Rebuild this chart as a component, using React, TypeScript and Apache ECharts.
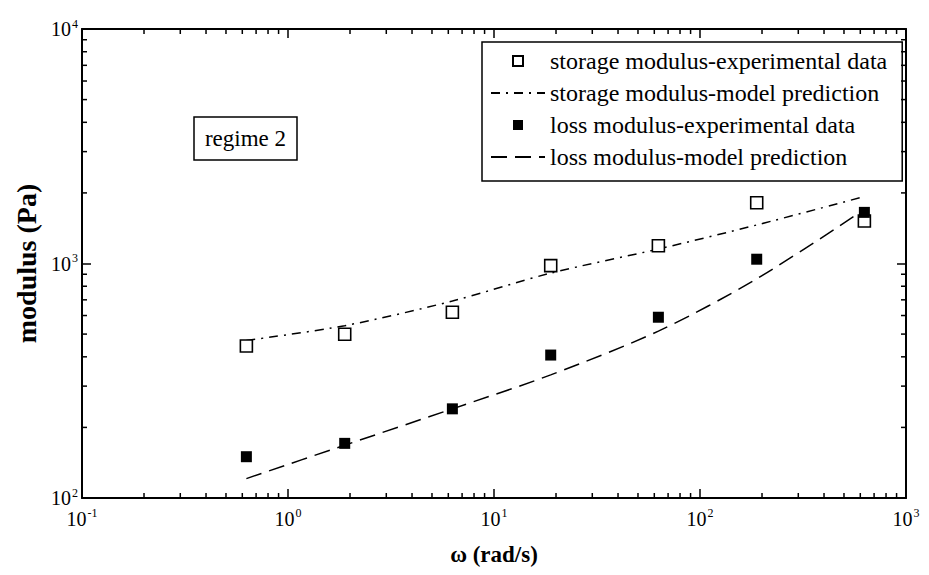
import React, { useEffect, useRef } from "react";
import * as echarts from "echarts";

const omega = [0.628, 1.885, 6.28, 18.85, 62.8, 188.5, 628];
const storageExp = [445, 499, 620, 979, 1191, 1815, 1517];
const lossExp = [150, 171, 240, 407, 590, 1043, 1652];
const storageModel = [470, 543, 692, 910, 1153, 1460, 1930];
const lossModel = [121, 168, 240, 335, 515, 860, 1700];

const xMinorTicks = [0.2, 0.3, 0.4, 0.5, 0.6, 0.7, 0.8, 0.9, 2, 3, 4, 5, 6, 7, 8, 9, 20, 30, 40, 50, 60, 70, 80, 90, 200, 300, 400, 500, 600, 700, 800, 900];
const yMinorTicks = [200, 300, 400, 500, 600, 700, 800, 900, 2000, 3000, 4000, 5000, 6000, 7000, 8000, 9000];

const legendNames = [
  "storage modulus-experimental data",
  "storage modulus-model prediction",
  "loss modulus-experimental data",
  "loss modulus-model prediction",
];

const FONT = "Liberation Serif";
const SQUARE = "path://M0,0L10,0L10,10L0,10Z";

const pair = (xs: number[], ys: number[]) => xs.map((x, i) => [x, ys[i]]);

const expLabel = (v: number) => {
  const e = Math.round(Math.log10(v));
  return `{b|10}{s|${e}}`;
};

const rich = {
  b: { fontFamily: FONT, fontSize: 20, color: "#000" },
  s: { fontFamily: FONT, fontSize: 12, color: "#000", padding: [0, 0, 11, 1] },
};

export default function App() {
  const ref = useRef<HTMLDivElement>(null);
  useEffect(() => {
    document.body.style.margin = "0";
    if (!ref.current) return;
    const chart = echarts.init(ref.current, undefined, { renderer: "svg" });
    const tickStyle = { color: "#000", width: 1.5 };
    const option: any = {
      animation: false,
      backgroundColor: "#fff",
      grid: { left: 82, right: 23, top: 29, bottom: 77 },
      xAxis: [
        {
          type: "log",
          logBase: 10,
          min: 0.1,
          max: 1000,
          position: "bottom",
          name: "ω (rad/s)",
          nameLocation: "middle",
          nameGap: 45,
          nameTextStyle: { fontFamily: FONT, fontSize: 23, fontWeight: "bold", color: "#000" },
          axisLine: { show: true, lineStyle: { color: "#000", width: 2 } },
          axisTick: { show: true, inside: true, length: 9, lineStyle: tickStyle },
          axisLabel: { formatter: expLabel, rich, margin: 9 },
          splitLine: { show: false },
        },
        {
          type: "log",
          logBase: 10,
          min: 0.1,
          max: 1000,
          position: "top",
          axisLine: { show: true, lineStyle: { color: "#000", width: 2 } },
          axisTick: { show: true, inside: true, length: 9, lineStyle: tickStyle },
          axisLabel: { show: false },
          splitLine: { show: false },
        },
      ],
      yAxis: [
        {
          type: "log",
          logBase: 10,
          min: 100,
          max: 10000,
          position: "left",
          name: "modulus (Pa)",
          nameLocation: "middle",
          nameGap: 38,
          nameRotate: 90,
          nameTextStyle: { fontFamily: FONT, fontSize: 28, fontWeight: "bold", color: "#000" },
          axisLine: { show: true, lineStyle: { color: "#000", width: 2 } },
          axisTick: { show: true, inside: true, length: 9, lineStyle: tickStyle },
          axisLabel: { formatter: expLabel, rich, margin: 4 },
          splitLine: { show: false },
        },
        {
          type: "log",
          logBase: 10,
          min: 100,
          max: 10000,
          position: "right",
          axisLine: { show: true, lineStyle: { color: "#000", width: 2 } },
          axisTick: { show: true, inside: true, length: 9, lineStyle: tickStyle },
          axisLabel: { show: false },
          splitLine: { show: false },
        },
      ],
      legend: {
        orient: "vertical",
        left: 482,
        top: 42,
        data: [
          { name: legendNames[0], icon: SQUARE },
          { name: legendNames[1], itemStyle: { opacity: 0 } },
          { name: legendNames[2], icon: SQUARE },
          { name: legendNames[3], itemStyle: { opacity: 0 } },
        ],
        itemWidth: 54,
        itemHeight: 10,
        itemGap: 8,
        borderColor: "#000",
        borderWidth: 1.5,
        borderRadius: 0,
        padding: [7, 15, 12, 8],
        textStyle: { fontFamily: FONT, fontSize: 24, color: "#000", lineHeight: 22 },
        selectedMode: false,
      },
      graphic: [
        {
          type: "group",
          children: [
            {
              type: "rect",
              shape: { x: 194, y: 117, width: 103, height: 43 },
              style: { fill: "#fff", stroke: "#000", lineWidth: 1.5 },
            },
            {
              type: "text",
              x: 245.5,
              y: 138.5,
              style: {
                text: "regime 2",
                fontFamily: FONT,
                fontSize: 23,
                fill: "#000",
                textAlign: "center",
                textVerticalAlign: "middle",
              },
            },
          ],
        },
      ],
      series: [
        {
          name: legendNames[1],
          type: "line",
          data: pair(omega, storageModel),
          symbol: "none",
          smooth: 0.3,
          lineStyle: { color: "#000", width: 1.5, type: [9, 6, 2, 6] },
          itemStyle: { color: "#000" },
          z: 2,
        },
        {
          name: legendNames[3],
          type: "line",
          data: pair(omega, lossModel),
          symbol: "none",
          smooth: 0.3,
          lineStyle: { color: "#000", width: 1.5, type: [16, 8] },
          itemStyle: { color: "#000" },
          z: 2,
        },
        {
          name: legendNames[0],
          type: "scatter",
          data: pair(omega, storageExp),
          symbol: "rect",
          symbolSize: 12,
          itemStyle: { color: "#fff", borderColor: "#000", borderWidth: 1.6, opacity: 1 },
          z: 3,
        },
        {
          name: legendNames[2],
          type: "scatter",
          data: pair(omega, lossExp),
          symbol: "rect",
          symbolSize: 11,
          itemStyle: { color: "#000", borderColor: "#000", borderWidth: 0, opacity: 1 },
          z: 4,
        },
        {
          type: "custom",
          name: "xminor",
          data: xMinorTicks.map((v) => [v, 100]),
          clip: false,
          silent: true,
          renderItem: (params: any, api: any) => {
            const cs = params.coordSys;
            const p = api.coord([api.value(0), api.value(1)]);
            const x = p[0];
            const b = cs.y + cs.height;
            return {
              type: "group",
              children: [
                { type: "line", shape: { x1: x, y1: b, x2: x, y2: b - 5 }, style: { stroke: "#000", lineWidth: 1.5 } },
                { type: "line", shape: { x1: x, y1: cs.y, x2: x, y2: cs.y + 5 }, style: { stroke: "#000", lineWidth: 1.5 } },
              ],
            };
          },
          z: 1,
        },
        {
          type: "custom",
          name: "yminor",
          data: yMinorTicks.map((v) => [0.1, v]),
          clip: false,
          silent: true,
          renderItem: (params: any, api: any) => {
            const cs = params.coordSys;
            const p = api.coord([api.value(0), api.value(1)]);
            const y = p[1];
            const r = cs.x + cs.width;
            return {
              type: "group",
              children: [
                { type: "line", shape: { x1: cs.x, y1: y, x2: cs.x + 5, y2: y }, style: { stroke: "#000", lineWidth: 1.5 } },
                { type: "line", shape: { x1: r, y1: y, x2: r - 5, y2: y }, style: { stroke: "#000", lineWidth: 1.5 } },
              ],
            };
          },
          z: 1,
        },
      ],
    };
    chart.setOption(option);
    return () => chart.dispose();
  }, []);
  return <div ref={ref} style={{ width: 929, height: 575 }} />;
}
